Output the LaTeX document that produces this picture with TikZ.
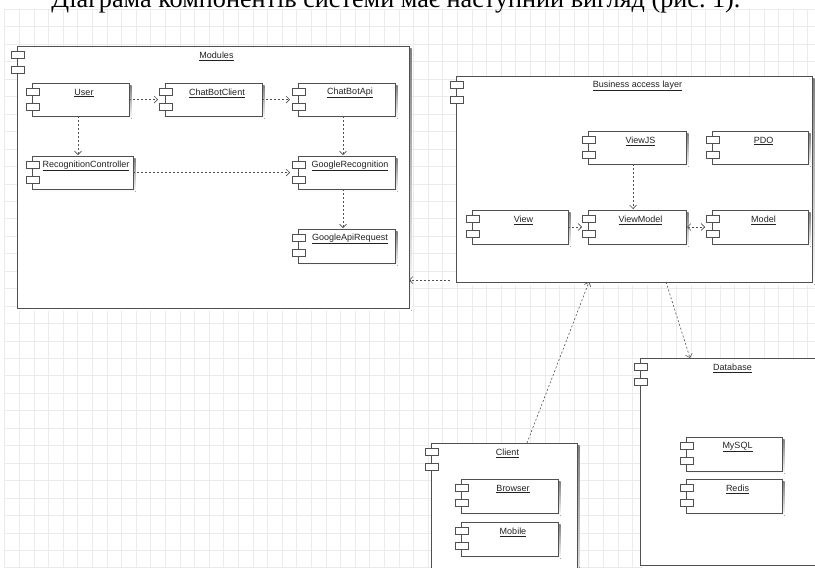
\documentclass[tikz,border=0pt]{standalone}
\usepackage{fontspec}
\setmainfont{Liberation Sans}
\newfontfamily\capfont{Liberation Serif}
\usetikzlibrary{arrows.meta}
\definecolor{ink}{HTML}{222222}
\definecolor{edge}{HTML}{505050}
\definecolor{gridc}{HTML}{EBEBEB}
\definecolor{shade}{HTML}{E6E6E6}

\tikzset{
  >={Straight Barb[length=3.5pt,width=7pt]},
  box/.style={draw=edge,fill=white,line width=0.8pt,outer sep=0pt,inner sep=0pt},
  port/.style={draw=edge,fill=white,line width=0.8pt},
  lab/.style={text=ink,inner sep=1pt,font=\fontsize{9}{10}\selectfont},
  dep/.style={draw=edge,line width=0.6pt,dash pattern=on 2pt off 2pt,->},
}

\begin{document}
\begin{tikzpicture}[x=1pt,y=-1pt]
  \useasboundingbox (0,0) rectangle (815,568);
  % grid paper behind everything
  \foreach \i in {0,...,55}
    \draw[gridc,line width=0.6pt] ({4.7+14.6*\i},9.3) -- ({4.7+14.6*\i},568);
  \foreach \j in {0,...,32}
    \draw[gridc,line width=0.6pt] (4.7,{9.3+17.45*\j}) -- (815,{9.3+17.45*\j});

  % the sentence above the figure, cut by the top edge
  \node[anchor=base,inner sep=0pt,font=\capfont\fontsize{26.2}{30}\selectfont] (caption)
    at (396,7.5) {Діаграма компонентів системи має наступний вигляд (рис.~1).};

  % containers first, then the components inside them: name/left/top/right/bottom/label
  \foreach \nm/\xa/\ya/\xb/\yb/\txt in {
      modules/17/46/409/308/Modules,
      business/456/76/812/282/Business access layer,
      database/640/358/818/565/Database,
      client/431/443/577/610/Client,
      user/32/83/129/116/User,
      cbclient/165/83/262/116/ChatBotClient,
      cbapi/298/83/395/116/ChatBotApi,
      recctl/32/156/133/189/RecognitionController,
      grec/298/156/395/189/GoogleRecognition,
      gapi/298/229/395/263/GoogleApiRequest,
      viewjs/588/131/686/164/ViewJS,
      pdo/712/131/808/164/PDO,
      view/472/210/568/244/View,
      vmodel/588/210/686/244/ViewModel,
      model/712/210/808/244/Model,
      mysql/686/437/782/471/MySQL,
      redis/686/479/782/513/Redis,
      browser/461/479/558/513/Browser,
      mobile/461/522/558/556/Mobile}{
    \fill[shade] (\xa+2.5,\ya+2.5) rectangle (\xb+2.5,\yb+2.5);
    \node[box,minimum width=\xb-\xa,minimum height=\yb-\ya] (\nm)
      at ({(\xa+\xb)/2},{(\ya+\yb)/2}) {};
    \foreach \dy in {5.5,20.5}
      \draw[port] ([shift={(-6,\dy)}]\nm.north west) rectangle ++(13,7);
    \node[lab] (\nm-t) at ([shift={(3.5,10)}]\nm.north) {\underline{\txt}};}

  % dependencies inside Modules
  \draw[dep,shorten >=7pt] (user.east) -- (cbclient.west);
  \draw[dep,shorten >=8pt] (cbclient.east) -- (cbapi.west);
  \draw[dep,shorten >=1pt] ([xshift=-2.5pt]user.south) -- ([xshift=-2.5pt]user.south |- recctl.north);
  \draw[dep,shorten >=1pt] ([xshift=-3.5pt]cbapi.south) -- ([xshift=-3.5pt]cbapi.south |- grec.north);
  \draw[dep,shorten >=8pt] (recctl.east) -- (grec.west);
  \draw[dep,shorten >=1pt] ([xshift=-3.5pt]grec.south) -- ([xshift=-3.5pt]grec.south |- gapi.north);

  % dependencies inside the business layer
  \draw[dep,shorten >=6pt] (view.east) -- (vmodel.west);
  \draw[dep,shorten >=1pt] ([xshift=-4pt]viewjs.south) -- ([xshift=-4pt]viewjs.south |- vmodel.north);
  \draw[dep,<->,shorten <=1pt,shorten >=7pt] (vmodel.east) -- (model.west);

  % between the containers
  \draw[dep,shorten <=6pt] ([yshift=-101pt]business.west) -- ([yshift=-101pt]business.west -| modules.east);
  \draw[dep] ([xshift=23pt]client.north) -- ([xshift=-45pt]business.south);
  \draw[dep] ([xshift=32pt]business.south) -- ([xshift=-39pt]database.north);
\end{tikzpicture}
\end{document}
